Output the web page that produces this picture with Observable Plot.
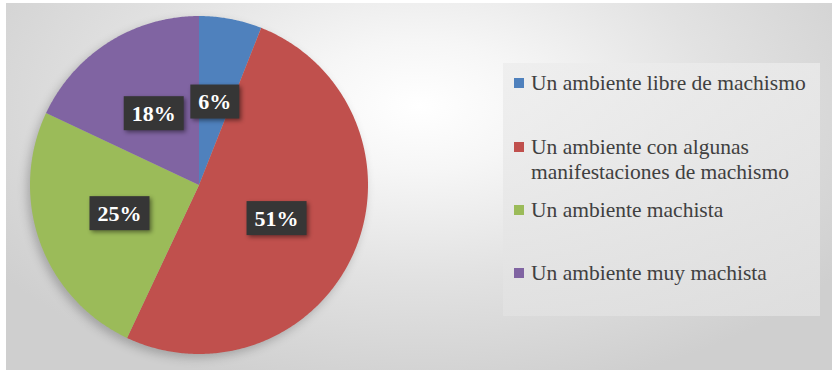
<!DOCTYPE html>
<html>
<head>
<meta charset="utf-8">
<script src="https://cdn.jsdelivr.net/npm/d3@7"></script>
<script src="https://cdn.jsdelivr.net/npm/@observablehq/plot@0.6"></script>
<style>
  html, body { margin: 0; padding: 0; background: #fff; }
  #wrap { position: relative; width: 838px; height: 378px; overflow: hidden; background: #fff; }
  #bg { position: absolute; left: 6px; top: 3px; width: 826px; height: 367px;
        background: radial-gradient(ellipse 62% 80% at 50% 28%, #ffffff 0%, #f6f6f6 22%, #e2e2e2 58%, #cfcfcf 100%); }
  #chart { position: absolute; left: 0; top: 0; }
  #legend { position: absolute; left: 503px; top: 63px; width: 317px; height: 253px;
            background: linear-gradient(to bottom, rgba(236,236,236,0.75), rgba(226,226,226,0.8)); }
  .item { position: absolute; left: 28px; font-family: "Liberation Serif", "Times New Roman", serif;
          font-size: 21.5px; line-height: 25px; color: #404040; white-space: nowrap; }
  .sw { position: absolute; left: -17px; top: 7px; width: 10px; height: 10px; }
</style>
</head>
<body>
<div id="wrap">
  <div id="bg"></div>
  <div id="legend"></div>
  <div id="chart"></div>
</div>
<script>
// ---- data ----
const categories = [
  "Un ambiente libre de machismo",
  "Un ambiente con algunas manifestaciones de machismo",
  "Un ambiente machista",
  "Un ambiente muy machista"
];
const legendLines = [
  ["Un ambiente libre de machismo"],
  ["Un ambiente con algunas", "manifestaciones de machismo"],
  ["Un ambiente machista"],
  ["Un ambiente muy machista"]
];
const values = [6, 51, 25, 18];
const colors = ["#4F81BD", "#C0504D", "#9BBB59", "#8064A2"];

// ---- geometry from values via d3.pie ----
const arcs = d3.pie().sort(null).value(d => d)(values);
const slicePts = [];
arcs.forEach((a, i) => {
  const cat = categories[i];
  slicePts.push({cat, x: 0, y: 0});
  const n = Math.max(4, Math.ceil((a.endAngle - a.startAngle) / 0.01));
  for (let k = 0; k <= n; k++) {
    const t = a.startAngle + (a.endAngle - a.startAngle) * k / n;
    slicePts.push({cat, x: Math.sin(t), y: Math.cos(t)});
  }
  slicePts.push({cat, x: 0, y: 0});
});
const labels = arcs.map((a, i) => {
  const m = (a.startAngle + a.endAngle) / 2;
  return {cat: categories[i], label: values[i] + "%", x: 0.5 * Math.sin(m), y: 0.5 * Math.cos(m)};
});

const plot = Plot.plot({
  width: 838,
  height: 378,
  marginLeft: 29.5,
  marginRight: 470.5,
  marginTop: 15.5,
  marginBottom: 24.5,
  style: {background: "transparent", overflow: "visible"},
  x: {domain: [-1, 1], axis: null},
  y: {domain: [-1, 1], axis: null},
  color: {domain: categories, range: colors},
  marks: [
    Plot.line(slicePts, {x: "x", y: "y", z: "cat", fill: "cat", stroke: "none", curve: "linear", className: "slices"}),
    Plot.text(labels, {x: "x", y: "y", text: "label", fill: "white", fontSize: 22, fontWeight: "bold",
      fontFamily: "Liberation Serif, Times New Roman, serif", className: "labels"})
  ]
});
document.getElementById("chart").appendChild(plot);

// soft shadow for the pie
const sl = plot.querySelector(".slices");
if (sl) sl.style.filter = "drop-shadow(-3px 4px 5px rgba(0,0,0,0.22))";

// dark boxes behind the labels
const lg = plot.querySelector(".labels");
if (lg) {
  const texts = Array.from(lg.querySelectorAll("text"));
  texts.forEach(t => {
    const b = t.getBBox();
    const r = document.createElementNS("http://www.w3.org/2000/svg", "rect");
    r.setAttribute("x", b.x - 8);
    r.setAttribute("y", b.y + b.height / 2 - 17);
    r.setAttribute("width", b.width + 16);
    r.setAttribute("height", 34);
    r.setAttribute("fill", "#363636");
    r.style.filter = "drop-shadow(2px 2px 2px rgba(0,0,0,0.45))";
    const tr = t.getAttribute("transform");
    if (tr) r.setAttribute("transform", tr);
    t.parentNode.insertBefore(r, t);
  });
}

// legend
const legend = document.getElementById("legend");
const tops = [8, 72, 135, 198];
legendLines.forEach((lines, i) => {
  const d = document.createElement("div");
  d.className = "item";
  d.style.top = tops[i] + "px";
  const sw = document.createElement("div");
  sw.className = "sw";
  sw.style.background = colors[i];
  d.appendChild(sw);
  d.insertAdjacentHTML("beforeend", lines.join("<br>"));
  legend.appendChild(d);
});
</script>
</body>
</html>
